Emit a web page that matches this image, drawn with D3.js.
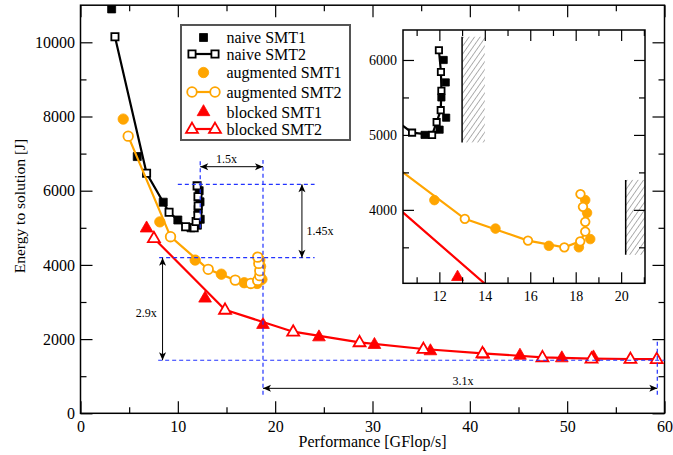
<!DOCTYPE html>
<html><head><meta charset="utf-8">
<script src="https://cdn.jsdelivr.net/npm/d3@7"></script>
<style>body{margin:0;background:#fff}svg{display:block}text{font-family:"Liberation Serif","Times New Roman",serif}</style>
</head><body><svg id="c" width="673" height="455"></svg>
<script>
// ---- data ----
const naiveSMT1X = [3.2, 5.83, 8.5, 10.0, 11.35, 12.01, 12.3, 12.09, 12.28, 12.19];
const naiveSMT1Y = [10900, 6920, 5690, 5210, 5000, 5070, 5230, 5500, 5700, 6000];
const naiveSMT2X = [3.54, 6.79, 9.1, 10.8, 11.68, 11.88, 12.06, 12.09, 12.07, 11.98];
const naiveSMT2Y = [10150, 6470, 5420, 5030, 5000, 5170, 5330, 5590, 5840, 6130];
const augSMT1X = [4.39, 8.15, 11.78, 14.47, 16.82, 18.14, 18.64, 18.5, 18.42];
const augSMT1Y = [7930, 5160, 4130, 3750, 3520, 3500, 3610, 3960, 4130];
const augSMT2X = [4.9, 9.25, 13.12, 15.9, 17.5, 18.2, 18.42, 18.42, 18.32, 18.21];
const augSMT2Y = [7470, 4760, 3880, 3590, 3500, 3580, 3710, 3840, 4040, 4210];
const blkSMT1X = [6.79, 12.8, 18.75, 24.5, 30.2, 35.95, 41.4, 45.15, 49.45, 52.7];
const blkSMT1Y = [5000, 3110, 2400, 2065, 1860, 1690, 1600, 1570, 1500, 1525];
const blkSMT2X = [7.54, 14.85, 21.85, 28.67, 35.23, 41.3, 47.46, 52.5, 56.5, 59.2];
const blkSMT2Y = [4720, 2790, 2200, 1914, 1733, 1617, 1510, 1472, 1464, 1460];

const xTicks = [0, 10, 20, 30, 40, 50, 60];
const xMinor = [5, 15, 25, 35, 45, 55];
const yTicks = [0, 2000, 4000, 6000, 8000, 10000];
const yMinor = [1000, 3000, 5000, 7000, 9000];
const inXTicks = [12, 14, 16, 18, 20];
const inXMinor = [11, 13, 15, 17, 19, 21];
const inYTicks = [4000, 5000, 6000];
const inYMinor = [3500, 4500, 5500];

// annotation guides (data coords)
const dashH = [[10.0, 24.05, 6172], [8.08, 24.05, 4194], [7.98, 60, 1430]];
const dashV = [[12.3, 4990, 6830], [18.75, 500, 6830], [59.26, 500, 2000]];
const arrowsH = [[12.3, 18.75, 6647, "1.5x", 15.0, 6870], [18.75, 59.26, 673, "3.1x", 39.3, 870]];
const arrowsV = [[22.75, 4194, 6172, "1.45x", 24.6, 4920], [8.43, 1430, 4194, "2.9x", 6.75, 2720]];
// hatched regions in inset [x0,x1,y0,y1]
const hatch = [[13, 14, 4900, 6310], [20.2, 21.05, 3400, 4400]];

const legendNames = ["naive SMT1", "naive SMT2", "augmented SMT1", "augmented SMT2", "blocked SMT1", "blocked SMT2"];

// ---- setup ----
const svg = d3.select("#c");
const W = {l: 80.5, r: 664.5, t: 5.2, b: 413.3};
const x = d3.scaleLinear([0, 60], [W.l, W.r]);
const y = d3.scaleLinear([0, 11000], [W.b, W.t]);
const I = {l: 403, r: 645, t: 30, b: 283.3};
const xi = d3.scaleLinear([10.4, 21.05], [I.l, I.r]);
const yi = d3.scaleLinear([3020, 6400], [I.b, I.t]);

const defs = svg.append("defs");
defs.append("clipPath").attr("id", "cm").append("rect").attr("x", W.l).attr("y", W.t).attr("width", W.r - W.l).attr("height", W.b - W.t);
defs.append("clipPath").attr("id", "ci").append("rect").attr("x", I.l).attr("y", I.t).attr("width", I.r - I.l).attr("height", I.b - I.t);
const pat = defs.append("pattern").attr("id", "hat").attr("patternUnits", "userSpaceOnUse").attr("width", 4.5).attr("height", 5).attr("patternTransform", "rotate(35)");
pat.append("line").attr("x1", 0).attr("y1", 0).attr("x2", 0).attr("y2", 5).attr("stroke", "#333").attr("stroke-width", 0.8);
defs.append("marker").attr("id", "ah").attr("viewBox", "-10 -5 12 10").attr("refX", 0).attr("refY", 0)
  .attr("markerWidth", 12).attr("markerHeight", 10).attr("markerUnits", "userSpaceOnUse").attr("orient", "auto-start-reverse")
  .append("path").attr("d", "M0,0 L-8,-3.5 L-6,0 L-8,3.5 Z").attr("fill", "#000");

const ORANGE = "#ffa500", RED = "#ff0000";

function axes(g, xs, ys, box, xt, xm, yt, ym, fs, big, small, showLabels) {
  const mk = (gen, tr) => g.append("g").attr("transform", tr).call(gen).call(s => s.select(".domain").remove())
    .call(s => s.selectAll("text").attr("font-size", fs).attr("font-family", "Liberation Serif").attr("fill", "#000"))
    .call(s => s.selectAll("line").attr("stroke", "#000").attr("stroke-width", 1.2));
  mk(d3.axisBottom(xs).tickValues(xt).tickSize(-big).tickPadding(showLabels.xp).tickFormat(d3.format("d")), `translate(0,${box.b})`);
  mk(d3.axisBottom(xs).tickValues(xm).tickSize(-small).tickFormat(""), `translate(0,${box.b})`);
  mk(d3.axisTop(xs).tickValues(xt).tickSize(-big).tickFormat(""), `translate(0,${box.t})`);
  mk(d3.axisTop(xs).tickValues(xm).tickSize(-small).tickFormat(""), `translate(0,${box.t})`);
  mk(d3.axisLeft(ys).tickValues(yt).tickSize(-big).tickPadding(showLabels.yp).tickFormat(d3.format("d")), `translate(${box.l},0)`);
  mk(d3.axisLeft(ys).tickValues(ym).tickSize(-small).tickFormat(""), `translate(${box.l},0)`);
  mk(d3.axisRight(ys).tickValues(yt).tickSize(-big).tickFormat(""), `translate(${box.r},0)`);
  mk(d3.axisRight(ys).tickValues(ym).tickSize(-small).tickFormat(""), `translate(${box.r},0)`);
  g.append("rect").attr("x", box.l).attr("y", box.t).attr("width", box.r - box.l).attr("height", box.b - box.t)
    .attr("fill", "none").attr("stroke", "#000").attr("stroke-width", 1.5);
}

function series(g, xs, ys, X, Y, kind, color, open, line, size) {
  const pts = X.map((v, i) => [xs(v), ys(Y[i])]);
  if (line) g.append("path").attr("d", d3.line()(pts)).attr("fill", "none").attr("stroke", color).attr("stroke-width", 2.2);
  const sym = kind === "sq" ? d3.symbolSquare : kind === "ci" ? d3.symbolCircle : d3.symbolTriangle;
  const area = size.ar;
  g.selectAll(null).data(pts).join("path")
    .attr("transform", d => `translate(${d[0]},${d[1] + (kind === "tr" ? 0.5 : 0)})`)
    .attr("d", d3.symbol(sym, area))
    .attr("fill", open ? "#fff" : color).attr("stroke", color).attr("stroke-width", open ? 1.8 : 0.8);
}

// ---- main plot ----
const gm = svg.append("g");
axes(gm, x, y, W, xTicks, xMinor, yTicks, yMinor, 16, 12, 6, {xp: 7, yp: 5.5});
const dm = svg.append("g").attr("clip-path", "url(#cm)");
const szSq = {ar: 64}, szCi = {ar: 85}, szTr = {ar: 70};
series(dm, x, y, naiveSMT1X, naiveSMT1Y, "sq", "#000", false, false, szSq);
series(dm, x, y, naiveSMT2X, naiveSMT2Y, "sq", "#000", true, true, {ar: 52});
series(dm, x, y, augSMT1X, augSMT1Y, "ci", ORANGE, false, false, szCi);
series(dm, x, y, augSMT2X, augSMT2Y, "ci", ORANGE, true, true, {ar: 72});
series(dm, x, y, blkSMT1X, blkSMT1Y, "tr", RED, false, false, szTr);
series(dm, x, y, blkSMT2X, blkSMT2Y, "tr", RED, true, true, {ar: 62});

// guides
const ga = svg.append("g");
dashH.forEach(d => ga.append("line").attr("x1", x(d[0])).attr("x2", Math.min(x(d[1]), W.r + 2)).attr("y1", y(d[2])).attr("y2", y(d[2]))
  .attr("stroke", "#2233ff").attr("stroke-width", 1.2).attr("stroke-dasharray", "4,3"));
dashV.forEach(d => ga.append("line").attr("x1", x(d[0])).attr("x2", x(d[0])).attr("y1", y(d[1])).attr("y2", y(d[2]))
  .attr("stroke", "#2233ff").attr("stroke-width", 1.2).attr("stroke-dasharray", "4,3"));
arrowsH.forEach(d => {
  ga.append("line").attr("x1", x(d[0])).attr("x2", x(d[1])).attr("y1", y(d[2])).attr("y2", y(d[2]))
    .attr("stroke", "#000").attr("stroke-width", 1).attr("marker-start", "url(#ah)").attr("marker-end", "url(#ah)");
  ga.append("text").attr("x", x(d[4])).attr("y", y(d[5])).attr("dy", "0.35em").attr("text-anchor", "middle").attr("font-size", 12).text(d[3]);
});
arrowsV.forEach(d => {
  ga.append("line").attr("x1", x(d[0])).attr("x2", x(d[0])).attr("y1", y(d[1])).attr("y2", y(d[2]))
    .attr("stroke", "#000").attr("stroke-width", 1).attr("marker-start", "url(#ah)").attr("marker-end", "url(#ah)");
  ga.append("text").attr("x", x(d[4])).attr("y", y(d[5])).attr("dy", "0.35em").attr("text-anchor", "middle").attr("font-size", 12).text(d[3]);
});

// axis titles
svg.append("text").attr("x", (W.l + W.r) / 2).attr("y", 447).attr("text-anchor", "middle").attr("font-size", 16).text("Performance [GFlop/s]");
svg.append("text").attr("transform", "translate(25,206) rotate(-90)").attr("text-anchor", "middle").attr("font-size", 15.5).text("Energy to solution [J]");

// legend
const lg = svg.append("g");
lg.append("rect").attr("x", 181).attr("y", 25).attr("width", 169).attr("height", 115).attr("fill", "#fff").attr("stroke", "#555").attr("stroke-width", 2);
const rowsY = [37.5, 54, 72.5, 92, 112, 129];
const legSpec = [["sq", "#000", false], ["sq", "#000", true], ["ci", ORANGE, false], ["ci", ORANGE, true], ["tr", RED, false], ["tr", RED, true]];
legendNames.forEach((n, i) => {
  const [k, c, open] = legSpec[i];
  const yy = rowsY[i];
  const sym = k === "sq" ? d3.symbolSquare : k === "ci" ? d3.symbolCircle : d3.symbolTriangle;
  const ar = k === "sq" ? 52 : k === "ci" ? 72 : 62;
  if (open) {
    lg.append("line").attr("x1", 192).attr("x2", 215).attr("y1", yy).attr("y2", yy).attr("stroke", c).attr("stroke-width", 2.2);
    [192, 215].forEach(px => lg.append("path").attr("transform", `translate(${px},${yy + (k === "tr" ? 0.5 : 0)})`).attr("d", d3.symbol(sym, ar))
      .attr("fill", "#fff").attr("stroke", c).attr("stroke-width", 1.8));
  } else {
    lg.append("path").attr("transform", `translate(203.5,${yy})`).attr("d", d3.symbol(sym, k === "sq" ? 64 : k === "ci" ? 85 : 70)).attr("fill", c).attr("stroke", c).attr("stroke-width", 0.8);
  }
  lg.append("text").attr("x", 226.5).attr("y", yy).attr("dy", "0.35em").attr("font-size", 16).text(n);
});

// ---- inset ----
const gi = svg.append("g");
gi.append("rect").attr("x", I.l).attr("y", I.t).attr("width", I.r - I.l).attr("height", I.b - I.t).attr("fill", "#fff");
const di = gi.append("g").attr("clip-path", "url(#ci)");
hatch.forEach(h => {
  di.append("rect").attr("x", xi(h[0])).attr("y", yi(h[3])).attr("width", xi(h[1]) - xi(h[0])).attr("height", yi(h[2]) - yi(h[3])).attr("fill", "url(#hat)");
  di.append("line").attr("x1", xi(h[0])).attr("x2", xi(h[0])).attr("y1", yi(h[3])).attr("y2", yi(h[2])).attr("stroke", "#000").attr("stroke-width", 1.5);
});
series(di, xi, yi, naiveSMT1X, naiveSMT1Y, "sq", "#000", false, false, {ar: 52});
series(di, xi, yi, naiveSMT2X, naiveSMT2Y, "sq", "#000", true, true, {ar: 40});
series(di, xi, yi, augSMT1X, augSMT1Y, "ci", ORANGE, false, false, {ar: 72});
series(di, xi, yi, augSMT2X, augSMT2Y, "ci", ORANGE, true, true, {ar: 58});
series(di, xi, yi, blkSMT1X, blkSMT1Y, "tr", RED, false, false, {ar: 62});
series(di, xi, yi, blkSMT2X, blkSMT2Y, "tr", RED, true, true, {ar: 55});
axes(gi, xi, yi, I, inXTicks, inXMinor, inYTicks, inYMinor, 14, 11, 6, {xp: 8, yp: 6});
</script></body></html>
